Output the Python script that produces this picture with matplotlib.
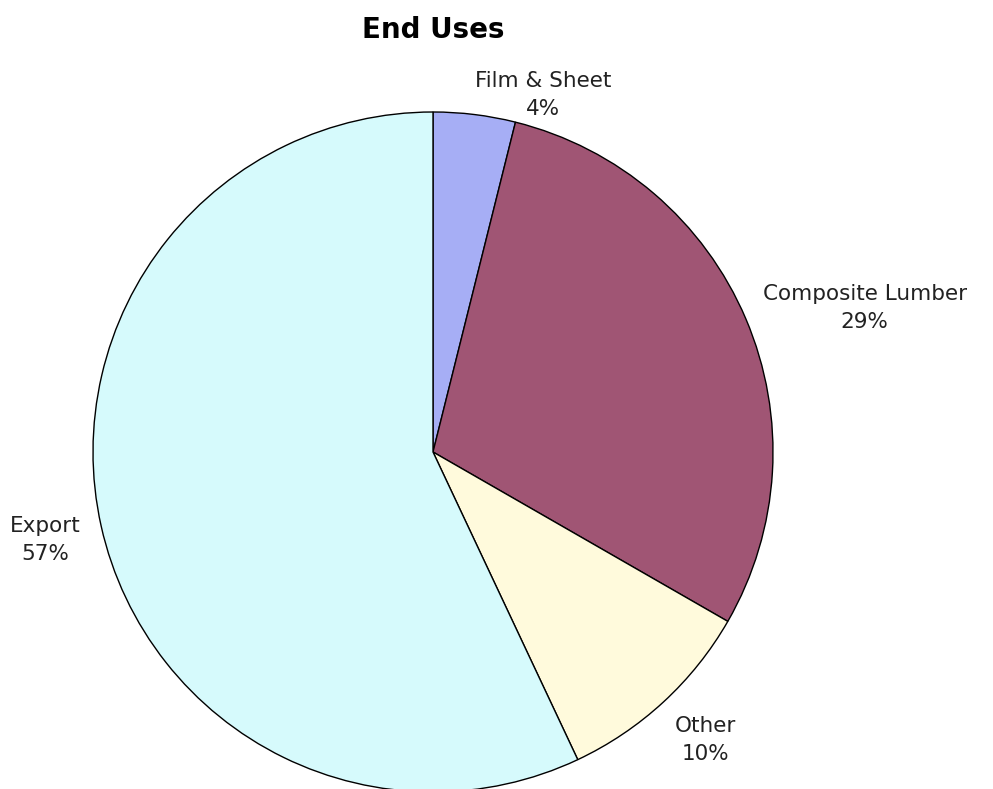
import matplotlib
matplotlib.use("Agg")
import matplotlib.pyplot as plt

# pie data, clockwise from 12 o'clock
categories = ["Film & Sheet", "Composite Lumber", "Other", "Export"]
shares = [3.9, 29.4, 9.7, 57.0]
pct_labels = ["4%", "29%", "10%", "57%"]
colors = ["#a6aef5", "#a05574", "#fffadc", "#d6fafc"]

# where the labels sit (in units of the pie radius)
label_pos = [(0.324, 1.05), (1.27, 0.424), (0.80, -0.847), (-1.141, -0.259)]

fig = plt.figure(figsize=(9.93, 7.89), dpi=100)
ax = fig.add_axes([93 / 993, -3 / 789, 680 / 993, 680 / 789])

wedges, texts = ax.pie(shares, colors=colors, startangle=90, counterclock=False,
                       labels=[c + "\n" + p for c, p in zip(categories, pct_labels)],
                       wedgeprops=dict(edgecolor="black", linewidth=1.0),
                       textprops=dict(fontsize=15.5, color="#222222"))
for t, (x, y) in zip(texts, label_pos):
    t.set_position((x, y))
    t.set_ha("center")
    t.set_va("center")
    t.set_multialignment("center")
    t.set_linespacing(1.5)
    t.set_clip_on(False)

ax.set_xlim(-1, 1)
ax.set_ylim(-1, 1)

fig.text(433 / 993, 1 - 30 / 789, "End Uses", ha="center", va="center",
         fontsize=20, fontweight="bold")

fig.savefig("out.png", dpi=100)
